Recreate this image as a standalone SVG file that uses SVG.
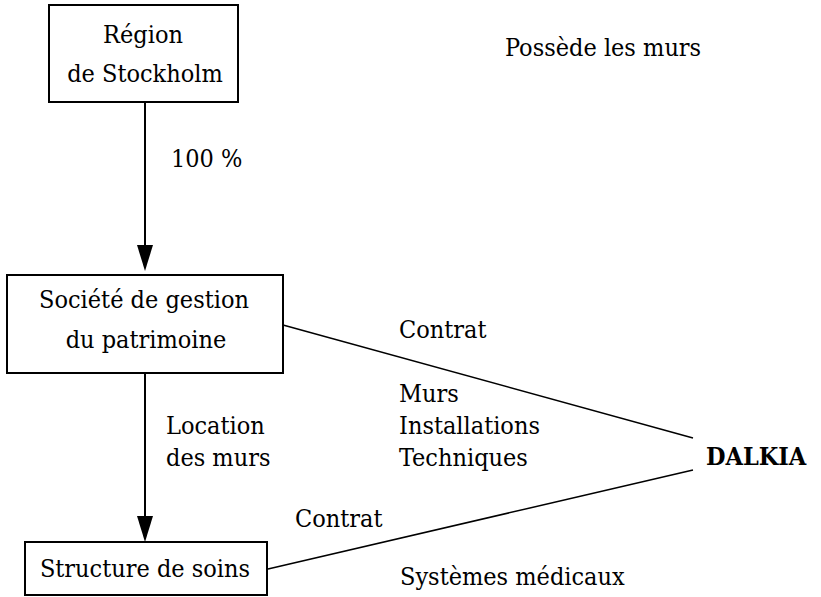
<svg xmlns="http://www.w3.org/2000/svg" width="821" height="597" viewBox="0 0 821 597">
<style>
.box{fill:#fff;stroke:#000;stroke-width:2}
text{font-family:'DejaVu Serif Condensed','DejaVu Serif',serif;font-stretch:condensed;font-size:25px;fill:#000}
.m{text-anchor:middle}
.b{font-weight:bold}
.ln{stroke:#000;stroke-width:1.5;fill:none}
.ar{stroke:#000;stroke-width:2;fill:none}
</style>
<g id="connectors">
<line class="ar" x1="145" y1="102" x2="145" y2="246"/>
<polygon points="137,245 153,245 145,271" fill="#000"/>
<line class="ar" x1="145" y1="373" x2="145" y2="517"/>
<polygon points="137,516 153,516 145,542" fill="#000"/>
<line class="ln" x1="283" y1="325" x2="693" y2="438"/>
<line class="ln" x1="268" y1="569" x2="693" y2="470"/>
</g>
<g id="region">
<rect class="box" x="49" y="5" width="189" height="97"/>
<text class="m" x="143" y="43">Région</text>
<text class="m" x="145" y="82">de Stockholm</text>
</g>
<g id="societe">
<rect class="box" x="7" y="275" width="276" height="98"/>
<text class="m" x="144" y="308">Société de gestion</text>
<text class="m" x="146" y="348">du patrimoine</text>
</g>
<g id="structure">
<rect class="box" x="25" y="542" width="242" height="53"/>
<text class="m" x="145" y="577">Structure de soins</text>
</g>
<g id="dalkia">
<text class="b" x="706" y="465">DALKIA</text>
</g>
<g id="labels">
<text x="505" y="56">Possède les murs</text>
<text x="171" y="167">100 %</text>
<text x="399" y="338">Contrat</text>
<text x="399" y="402">Murs</text>
<text x="399" y="434">Installations</text>
<text x="399" y="466">Techniques</text>
<text x="166" y="434">Location</text>
<text x="166" y="466">des murs</text>
<text x="295" y="527">Contrat</text>
<text x="400" y="585">Systèmes médicaux</text>
</g>
</svg>
